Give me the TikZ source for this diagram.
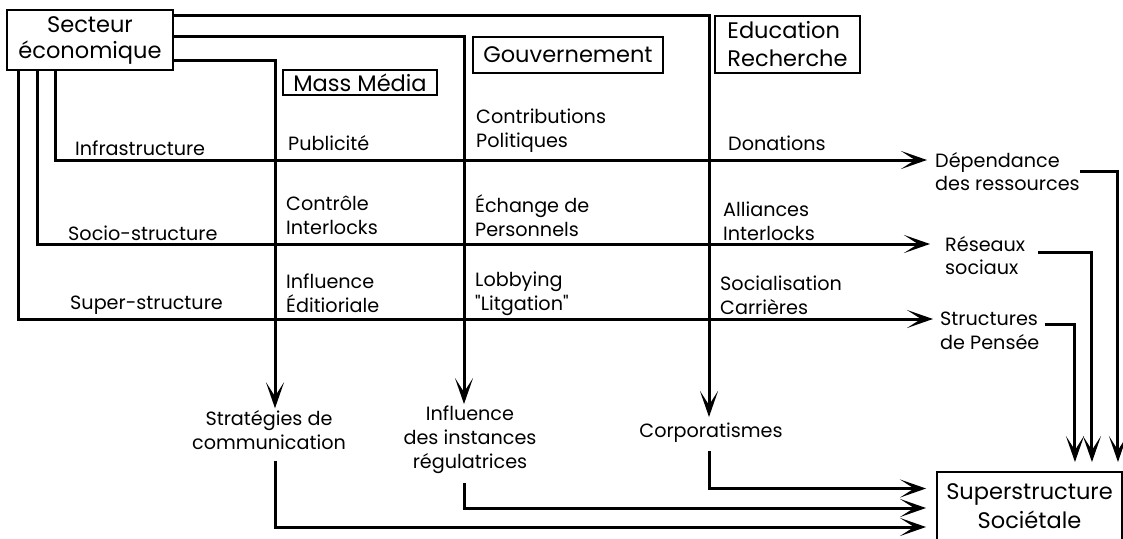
\documentclass[tikz,border=0pt]{standalone}
\usepackage{fontspec}
\setmainfont{Poppins}
\usetikzlibrary{arrows.meta,calc}
\tikzstyle{actor}=[draw, line width=1.9pt, inner sep=0pt, font=\fontsize{22.5}{26}\selectfont]
\tikzstyle{lbl}=[inner sep=0pt, align=left, anchor=west]
\tikzstyle{result}=[inner sep=0pt, align=center]
\tikzstyle{link}=[line width=3pt]
\tikzstyle{flow}=[link, -{Stealth[length=26pt,width=18pt,inset=14pt]}]
\begin{document}
\begin{tikzpicture}[x=1pt, y=-1pt, every node/.style={font=\fontsize{19.2}{23.8}\selectfont}]
  \useasboundingbox (0,0) rectangle (1123,538);
  % actors
  \node[actor, align=center, minimum width=166pt, minimum height=60pt] (secteur) at (90,40) {Secteur\\économique};
  \node[actor, minimum width=154pt, minimum height=25pt] (media) at (360,82.5) {Mass Média};
  \node[actor, minimum width=190pt, minimum height=36pt] (gouv) at (568,55) {Gouvernement};
  \node[actor, align=left, minimum width=145pt, minimum height=57pt, font=\fontsize{22.5}{28}\selectfont] (edu) at (787.5,44.5) {Education\\Recherche};
  \node[actor, align=center, minimum width=185pt, minimum height=68pt, font=\fontsize{22.5}{29}\selectfont] (societe) at (1029.5,506) {Superstructure\\Sociétale};
  % levels
  \node[lbl] (infra) at (75,148) {Infrastructure};
  \node[lbl] (socio) at (68,233) {Socio-structure};
  \node[lbl] (superst) at (70,305) {Super-structure};
  % channels
  \node[lbl] (pub) at (288,143) {Publicité};
  \node[lbl] (contrib) at (476,130.5) {Contributions\\Politiques};
  \node[lbl] (don) at (728,143) {Donations};
  \node[lbl] (ctrl) at (286,215.5) {Contrôle\\Interlocks};
  \node[lbl] (echange) at (475,215.5) {Échange de\\Personnels};
  \node[lbl] (alli) at (723,221.5) {Alliances\\Interlocks};
  \node[lbl] (infl) at (286,293.5) {Influence\\Éditioriale};
  \node[lbl] (lobby) at (475,293.5) {Lobbying\\\textquotedbl Litgation\textquotedbl};
  \node[lbl] (social) at (720,295.5) {Socialisation\\Carrières};
  % outcomes
  \node[lbl] (dep) at (935,171.5) {Dépendance\\des ressources};
  \node[lbl] (res) at (945,255.5) {Réseaux\\sociaux};
  \node[lbl] (pensee) at (940,331) {Structures\\de Pensée};
  \node[result] (strat) at (269,430) {Stratégies de\\communication};
  \node[result] (regul) at (470,440) {Influence\\des instances\\régulatrices};
  \node[result] (corp) at (711,433) {Corporatismes};
  % line positions
  \coordinate (mv) at (275,60);
  \coordinate (gv) at (464,36);
  \coordinate (ev) at (709,15);
  \coordinate (l1) at (55,0);
  \coordinate (l2) at (37,0);
  \coordinate (l3) at (18,0);
  % secteur to channels
  \draw[flow, shorten >=6pt] (secteur.east |- ev) -| (corp.north -| ev);
  \draw[flow, shorten >=2pt] (secteur.east |- gv) -| (regul.north -| gv);
  \draw[flow, shorten >=2pt] (secteur.east |- mv) -| (strat.north -| mv);
  % secteur to outcomes
  \draw[flow, shorten >=8pt] (secteur.south -| l1) |- ([yshift=11.5pt]dep.west);
  \draw[flow, shorten >=15pt] (secteur.south -| l2) |- ([yshift=11.5pt]res.west);
  \draw[flow, shorten >=7pt] (secteur.south -| l3) |- ([yshift=12pt]pensee.west);
  % outcomes to societe
  \draw[flow] (dep.east) -| ($(societe.north east)+(-5,-9)$);
  \draw[flow] ($(res.east)+(13,-3.5)$) -| ($(societe.north east)+(-31,-9)$);
  \draw[flow] ($(pensee.east)+(5,-7)$) -| ($(societe.north east)+(-48,-9)$);
  \draw[flow, shorten >=10pt] ([yshift=-8pt]corp.south -| ev) |- ([yshift=17.5pt]societe.west);
  \draw[flow, shorten >=10pt] ([yshift=-9pt]regul.south -| gv) |- ([yshift=-2pt]societe.west);
  \draw[flow, shorten >=10pt] ([yshift=-11pt]strat.south -| mv) |- ([yshift=-21pt]societe.west);
\end{tikzpicture}
\end{document}
